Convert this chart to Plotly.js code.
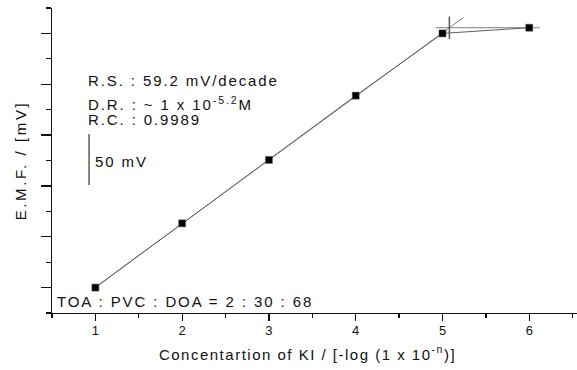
<!DOCTYPE html>
<html>
<head>
<meta charset="utf-8">
<script src="https://cdn.plot.ly/plotly-3.0.1.min.js"></script>
<style>
  html, body { margin: 0; padding: 0; background: #fff; }
  #chart { width: 577px; height: 370px; }
  .annotation-text { letter-spacing: 1.9px; }
  .annotation:nth-of-type(2) .annotation-text { letter-spacing: 1.45px; }
  .xtitle { letter-spacing: 1.5px; }
  .ytitle { letter-spacing: 2.6px; }
</style>
</head>
<body>
<div id="chart"></div>
<script>
// ---- data ----
const concentration = [1, 2, 3, 4, 5, 6];          // -log[KI]
const emf = [0, 63.2, 125.6, 188.8, 250, 255.6];    // mV (relative)
const fitPointCount = 5;                            // points used for the linear fit
const fitExtent = [1, 5.24];                        // x extent of drawn fit line
const plateauExtent = [4.92, 6.12];                 // x extent of plateau line
const limitMarkHalf = 11;                           // half height of detection-limit mark (mV)
const scaleBarX = [0.927, 0.927];
const scaleBarY = [101, 151];                       // 50 mV scale bar
const xTickVals = [1, 2, 3, 4, 5, 6];
const xTickText = ['1', '2', '3', '4', '5', '6'];
const infoLines = [
  'R.S. : 59.2 mV/decade',
  'D.R. : ~ 1 x 10<sup>-5.2</sup>M',
  'R.C. : 0.9989'
];
const scaleLabel = '50 mV';
const compositionLabel = 'TOA : PVC : DOA = 2 : 30 : 68';

// ---- linear regression on the first points ----
const fx = concentration.slice(0, fitPointCount);
const fy = emf.slice(0, fitPointCount);
const mx = fx.reduce((a, b) => a + b, 0) / fx.length;
const my = fy.reduce((a, b) => a + b, 0) / fy.length;
let sxy = 0, sxx = 0;
for (let i = 0; i < fx.length; i++) { sxy += (fx[i] - mx) * (fy[i] - my); sxx += (fx[i] - mx) ** 2; }
const slope = sxy / sxx, intercept = my - slope * mx;
const plateau = emf[emf.length - 1];
const xCross = (plateau - intercept) / slope;

const FONT = 'Liberation Sans, Arial, sans-serif';
const traces = [
  { x: fitExtent, y: fitExtent.map(v => intercept + slope * v), mode: 'lines',
    line: { color: '#7a7a7a', width: 1 }, hoverinfo: 'skip' },
  { x: plateauExtent, y: [plateau, plateau], mode: 'lines',
    line: { color: '#9a9a9a', width: 1.2 }, hoverinfo: 'skip' },
  { x: [xCross, xCross], y: [plateau - limitMarkHalf, plateau + limitMarkHalf], mode: 'lines',
    line: { color: '#555', width: 1.5 }, hoverinfo: 'skip' },
  { x: concentration, y: emf, mode: 'lines+markers',
    line: { color: '#606060', width: 1 },
    marker: { symbol: 'square', size: 7, color: '#000', line: { color: '#555', width: 0.5 } } },
  { x: scaleBarX, y: scaleBarY, mode: 'lines', line: { color: '#333', width: 1.2 }, hoverinfo: 'skip' }
];

const annY = [203.3, 181.3, 165.1];
const annotations = infoLines.map((t, i) => ({
  text: t, x: 0.895, y: annY[i], xref: 'x', yref: 'y', xanchor: 'left', yanchor: 'middle',
  showarrow: false, font: { family: FONT, size: 15, color: '#111' }
}));
annotations.push({ text: scaleLabel, x: 0.973, y: 123.6, xref: 'x', yref: 'y', xanchor: 'left',
  yanchor: 'middle', showarrow: false, font: { family: FONT, size: 15, color: '#111' } });
annotations.push({ text: compositionLabel, x: 0.53, y: -13.2, xref: 'x', yref: 'y', xanchor: 'left',
  yanchor: 'middle', showarrow: false, font: { family: FONT, size: 15, color: '#111' } });

const layout = {
  width: 577, height: 370,
  margin: { l: 52, r: 0, t: 8, b: 57 },
  paper_bgcolor: '#fff', plot_bgcolor: '#fff',
  showlegend: false,
  font: { family: FONT, color: '#111' },
  xaxis: {
    range: [0.5, 6.55], showgrid: false, zeroline: false,
    showline: true, linecolor: '#111', linewidth: 1.3,
    ticks: 'outside', ticklen: 7, tickwidth: 1.3, tickcolor: '#111',
    tickvals: xTickVals, ticktext: xTickText, ticklabelstandoff: -2,
    tickfont: { family: FONT, size: 13, color: '#111' },
    minor: { dtick: 0.5, tick0: 0.5, ticks: 'outside', ticklen: 4, tickwidth: 1.3, tickcolor: '#111' },
    title: { text: 'Concentartion of KI / [-log (1 x 10<sup>-n</sup>)]',
             font: { family: FONT, size: 15, color: '#111' }, standoff: 14 }
  },
  yaxis: {
    range: [-25, 275], showgrid: false, zeroline: false,
    showline: true, linecolor: '#111', linewidth: 1.3,
    ticks: 'outside', ticklen: 10, tickwidth: 1.3, tickcolor: '#111',
    dtick: 50, tick0: 0, showticklabels: false,
    minor: { dtick: 25, tick0: -25, ticks: 'outside', ticklen: 5, tickwidth: 1.3, tickcolor: '#111' },
    title: { text: 'E.M.F. / [mV]', font: { family: FONT, size: 15, color: '#111' }, standoff: 10 }
  },
  annotations: annotations
};

Plotly.newPlot('chart', traces, layout, { staticPlot: true }).then(gd => {
  // nudge the x-axis title to the reference's horizontal centre and height
  const xt = gd.querySelector('text.xtitle');
  if (xt) xt.setAttribute('transform', 'translate(-7,-2)');
});
</script>
</body>
</html>
